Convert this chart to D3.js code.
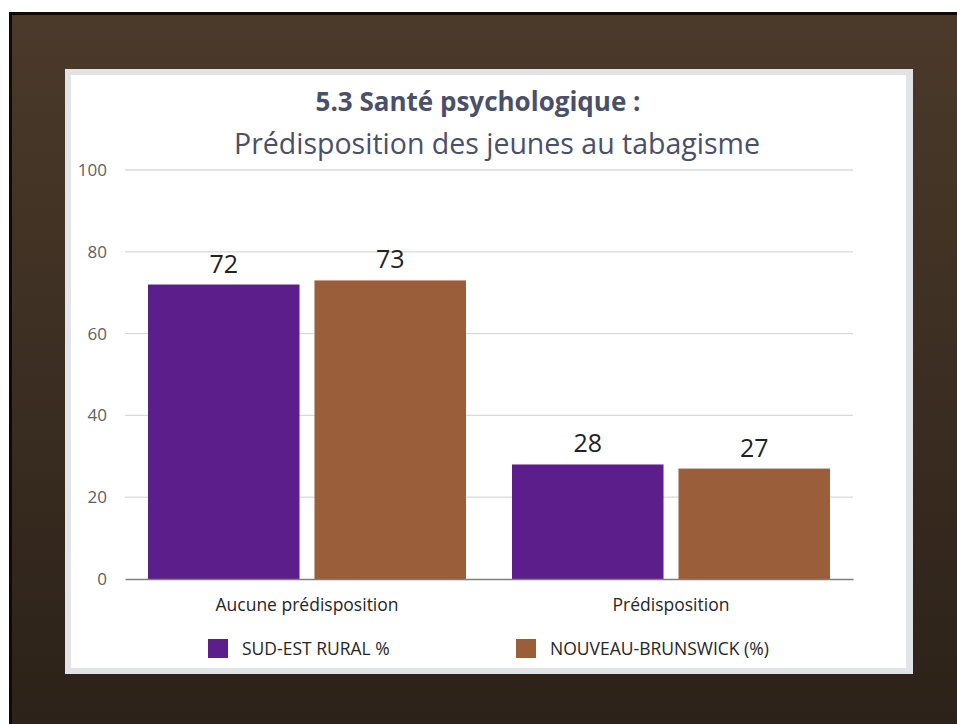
<!DOCTYPE html>
<html>
<head>
<meta charset="utf-8">
<script src="https://cdn.jsdelivr.net/npm/d3@7"></script>
<style>
  html, body { margin: 0; padding: 0; background: #ffffff; }
  svg { display: block; }
</style>
</head>
<body>
<svg id="chart" width="957" height="724"></svg>
<script>
// Chart data
const categories = ["Aucune prédisposition", "Prédisposition"];
const seriesNames = ["SUD-EST RURAL %", "NOUVEAU-BRUNSWICK (%)"];
const sudEstRural = [72, 28];
const nouveauBrunswick = [73, 27];
const yTicks = [0, 20, 40, 60, 80, 100];
const seriesColors = ["#5c1e8a", "#9b5e3b"];
const titleText = "5.3 Santé psychologique :";
const subtitleText = "Prédisposition des jeunes au tabagisme";

const seriesValues = [sudEstRural, nouveauBrunswick];
const rows = categories.map((c, i) => ({
  category: c,
  values: seriesNames.map((s, j) => ({ series: s, value: seriesValues[j][i], idx: j }))
}));

const svg = d3.select("#chart");
const W = 957, H = 724;
const FONT = "'Open Sans', sans-serif";

// Slide background with dark border
const defs = svg.append("defs");
const grad = defs.append("linearGradient").attr("id", "bg").attr("x1", 0).attr("y1", 0).attr("x2", 0).attr("y2", 1);
grad.append("stop").attr("offset", "0%").attr("stop-color", "#4b3a2a");
grad.append("stop").attr("offset", "100%").attr("stop-color", "#2c2219");

svg.append("rect").attr("x", 0).attr("y", 0).attr("width", W).attr("height", H).attr("fill", "#ffffff");
svg.append("rect").attr("x", 9).attr("y", 12).attr("width", W - 9).attr("height", H - 12).attr("fill", "#0d0a07");
svg.append("rect").attr("x", 12).attr("y", 15).attr("width", W - 12).attr("height", H - 15).attr("fill", "url(#bg)");

// Chart panel
svg.append("rect").attr("x", 65).attr("y", 69).attr("width", 848).attr("height", 605).attr("fill", "#e1e3e7");
svg.append("rect").attr("x", 71).attr("y", 75).attr("width", 835).attr("height", 593).attr("fill", "#ffffff");

// Scales
const x0 = d3.scaleBand().domain(categories).range([125, 853]).paddingInner(0).paddingOuter(0);
const x1 = d3.scaleBand().domain(seriesNames).range([23, x0.bandwidth() - 23]).paddingInner(0.09);
const y = d3.scaleLinear().domain([0, 100]).range([579, 170]);

// Gridlines
svg.append("g").selectAll("line")
  .data(yTicks.filter(d => d !== 0))
  .join("line")
  .attr("x1", 125).attr("x2", 853)
  .attr("y1", d => y(d)).attr("y2", d => y(d))
  .attr("stroke", "#d9d9d9").attr("stroke-width", 1.3);

// Y axis labels
const yAxis = d3.axisLeft(y).tickValues(yTicks).tickSize(0).tickPadding(18);
const yg = svg.append("g").attr("transform", "translate(125,0)").call(yAxis);
yg.select(".domain").remove();
yg.selectAll("text")
  .attr("font-family", FONT)
  .attr("font-size", 17)
  .attr("fill", "#606060");

// Bars
const groups = svg.append("g").selectAll("g")
  .data(rows)
  .join("g")
  .attr("transform", d => `translate(${x0(d.category)},0)`);

groups.selectAll("rect")
  .data(d => d.values)
  .join("rect")
  .attr("x", d => x1(d.series))
  .attr("y", d => y(d.value))
  .attr("width", x1.bandwidth())
  .attr("height", d => y(0) - y(d.value))
  .attr("fill", d => seriesColors[d.idx]);

// Value labels
groups.selectAll("text.val")
  .data(d => d.values)
  .join("text")
  .attr("class", "val")
  .attr("x", d => x1(d.series) + x1.bandwidth() / 2)
  .attr("y", d => y(d.value) - 12)
  .attr("text-anchor", "middle")
  .attr("font-family", FONT)
  .attr("font-size", 25)
  .attr("fill", "#222222")
  .text(d => d.value);

// Baseline axis
const xAxis = d3.axisBottom(x0).tickSize(0).tickPadding(20);
const xg = svg.append("g").attr("transform", `translate(0,${y(0)})`).call(xAxis);
xg.select(".domain").attr("stroke", "#7f7f7f").attr("stroke-width", 1.5);
xg.selectAll("text")
  .attr("font-family", FONT)
  .attr("font-size", 17.5)
  .attr("fill", "#262626");

// Legend
const legendX = [208, 516];
const legend = svg.append("g").selectAll("g")
  .data(seriesNames)
  .join("g")
  .attr("transform", (d, i) => `translate(${legendX[i]},639)`);
legend.append("rect").attr("width", 20).attr("height", 19).attr("fill", (d, i) => seriesColors[i]);
legend.append("text")
  .attr("x", 34).attr("y", 16)
  .attr("font-family", FONT)
  .attr("font-size", 17.5)
  .attr("fill", "#262626")
  .text(d => d);

// Titles
svg.append("text")
  .attr("x", 478).attr("y", 111)
  .attr("text-anchor", "middle")
  .attr("font-family", FONT)
  .attr("font-weight", "bold")
  .attr("font-size", 26)
  .attr("fill", "#4a5068")
  .text(titleText);
svg.append("text")
  .attr("x", 497).attr("y", 154)
  .attr("text-anchor", "middle")
  .attr("font-family", FONT)
  .attr("font-size", 28.5)
  .attr("fill", "#4a5068")
  .text(subtitleText);
</script>
</body>
</html>
